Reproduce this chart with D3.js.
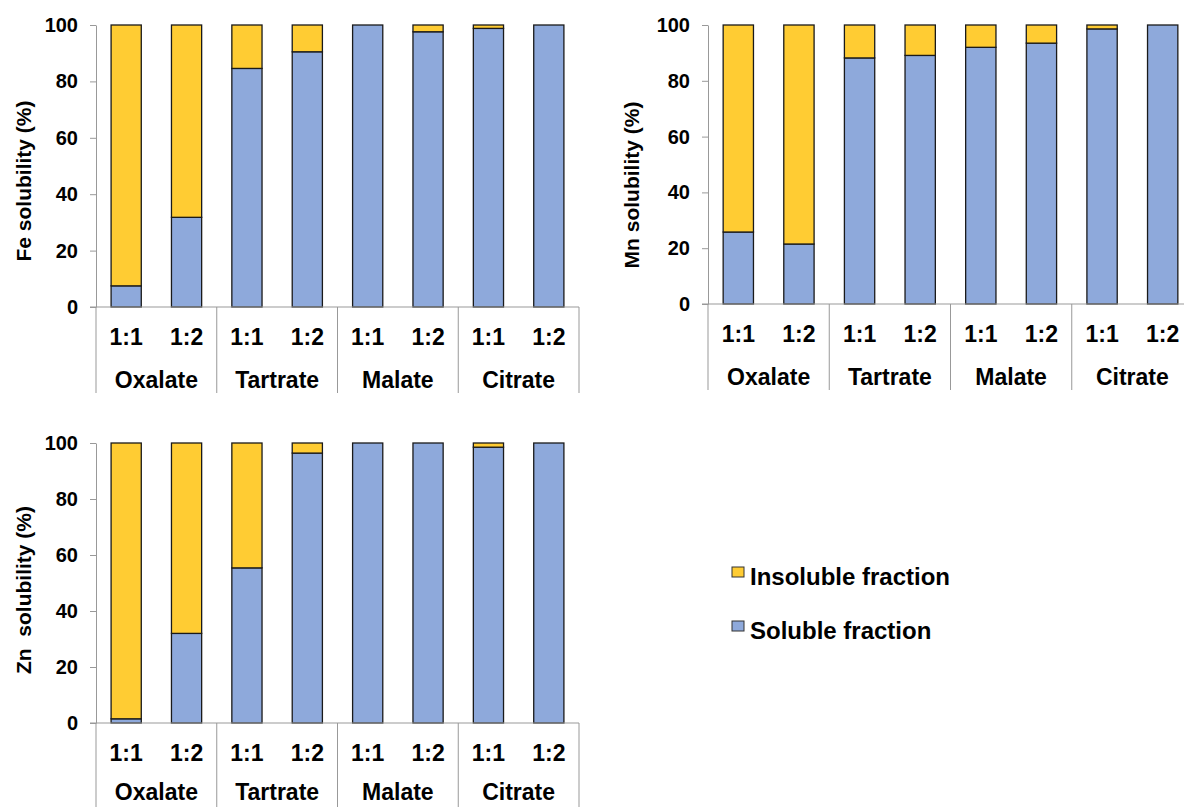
<!DOCTYPE html>
<meta charset="utf-8">
<script src="https://d3js.org/d3.v7.min.js"></script>
<style>
body { margin: 0; background: #fff; }
text { font-family: "Liberation Sans", Arial, sans-serif; font-weight: bold; fill: #000; }
</style>
<div id="chart"></div>
<script>
// data (soluble share, %)
var groups = ["Oxalate", "Tartrate", "Malate", "Citrate"];
var ratios = ["1:1", "1:2"];
var feSoluble = [7.5, 31.8, 84.6, 90.5, 100, 97.6, 98.8, 100];
var mnSoluble = [25.8, 21.5, 88.2, 89.1, 92.0, 93.5, 98.6, 100];
var znSoluble = [1.5, 32.0, 55.4, 96.4, 100, 100, 98.5, 100];
var yTicks = [0, 20, 40, 60, 80, 100];
var seriesNames = ["Insoluble fraction", "Soluble fraction"];
var seriesColors = ["#FFCC33", "#8EA9DB"];

var W = 1184, H = 807;
var svg = d3.select("#chart").append("svg")
  .attr("width", W)
  .attr("height", H);

// category keys, e.g. "Oxalate|1:1"
var cats = [];
groups.forEach(function(g) { ratios.forEach(function(r) { cats.push(g + "|" + r); }); });

function drawPanel(values, left, width, yTop, yBottom, title, titleX, titleY, groupOffset) {
  var rows = cats.map(function(c, i) {
    return { cat: c, soluble: values[i], insoluble: 100 - values[i] };
  });
  var stacked = d3.stack().keys(["soluble", "insoluble"])(rows);

  var x = d3.scaleBand()
    .domain(cats)
    .range([left, left + width])
    .paddingInner(0.5)
    .paddingOuter(0.25);
  var y = d3.scaleLinear()
    .domain([0, 100])
    .range([yBottom, yTop]);

  var g = svg.append("g");

  // y axis
  var ya = g.append("g")
    .attr("transform", "translate(" + left + ",0)")
    .call(d3.axisLeft(y).tickValues(yTicks).tickSize(6).tickSizeOuter(0).tickPadding(12));
  ya.select(".domain").attr("stroke", "#999");
  ya.selectAll(".tick line").attr("stroke", "#999");
  ya.selectAll(".tick text")
    .style("font-size", "20px")
    .style("font-family", "'Liberation Sans', Arial, sans-serif")
    .style("font-weight", "bold")
    .attr("fill", "#000");

  // bars
  var colorOf = { soluble: seriesColors[1], insoluble: seriesColors[0] };
  stacked.forEach(function(layer) {
    g.append("g")
      .selectAll("rect")
      .data(layer.filter(function(d) { return d[1] - d[0] > 0; }))
      .join("rect")
        .attr("x", function(d) { return x(d.data.cat); })
        .attr("width", x.bandwidth())
        .attr("y", function(d) { return y(d[1]); })
        .attr("height", function(d) { return y(d[0]) - y(d[1]); })
        .attr("fill", colorOf[layer.key])
        .attr("stroke", "#1a1a1a")
        .attr("stroke-width", 1.3);
  });

  // x axis line
  g.append("line")
    .attr("x1", left - 6).attr("x2", left + width)
    .attr("y1", yBottom).attr("y2", yBottom)
    .attr("stroke", "#999");

  // ratio labels
  g.append("g")
    .selectAll("text")
    .data(cats)
    .join("text")
      .attr("x", function(d) { return x(d) + x.bandwidth() / 2; })
      .attr("y", yBottom + 30)
      .attr("dy", "0.35em")
      .attr("text-anchor", "middle")
      .style("font-size", "23px")
      .text(function(d) { return d.split("|")[1]; });

  // group separators and group labels
  var step = x.step();
  var seps = d3.range(groups.length + 1).map(function(i) { return left + i * ratios.length * step; });
  g.append("g")
    .selectAll("line")
    .data(seps)
    .join("line")
      .attr("x1", function(d) { return d; }).attr("x2", function(d) { return d; })
      .attr("y1", yBottom).attr("y2", yBottom + 86)
      .attr("stroke", "#999");
  g.append("g")
    .selectAll("text")
    .data(groups)
    .join("text")
      .attr("x", function(d, i) { return (seps[i] + seps[i + 1]) / 2; })
      .attr("y", yBottom + groupOffset)
      .attr("dy", "0.35em")
      .attr("text-anchor", "middle")
      .style("font-size", "23px")
      .text(function(d) { return d; });

  // y title
  g.append("text")
    .attr("transform", "translate(" + titleX + "," + titleY + ") rotate(-90)")
    .attr("text-anchor", "middle")
    .attr("dy", "0.35em")
    .style("font-size", "21px")
    .style("white-space", "pre")
    .text(title);
}

drawPanel(feSoluble, 96, 483, 25, 307, "Fe solubility (%)", 24, 181, 73);
drawPanel(mnSoluble, 708, 485, 25, 304, "Mn solubility (%)", 632, 185, 73);
drawPanel(znSoluble, 96, 483, 443, 723, "Zn  solubility (%)", 24, 590, 69);

// legend
var legend = svg.append("g");
var legendY = [567, 621];
seriesNames.forEach(function(name, i) {
  legend.append("rect")
    .attr("x", 732).attr("y", legendY[i])
    .attr("width", 12).attr("height", 10)
    .attr("fill", seriesColors[i])
    .attr("stroke", "#333")
    .attr("stroke-width", 1);
  legend.append("text")
    .attr("x", 750)
    .attr("y", legendY[i] + 18)
    .style("font-size", "24px")
    .text(name);
});
</script>
